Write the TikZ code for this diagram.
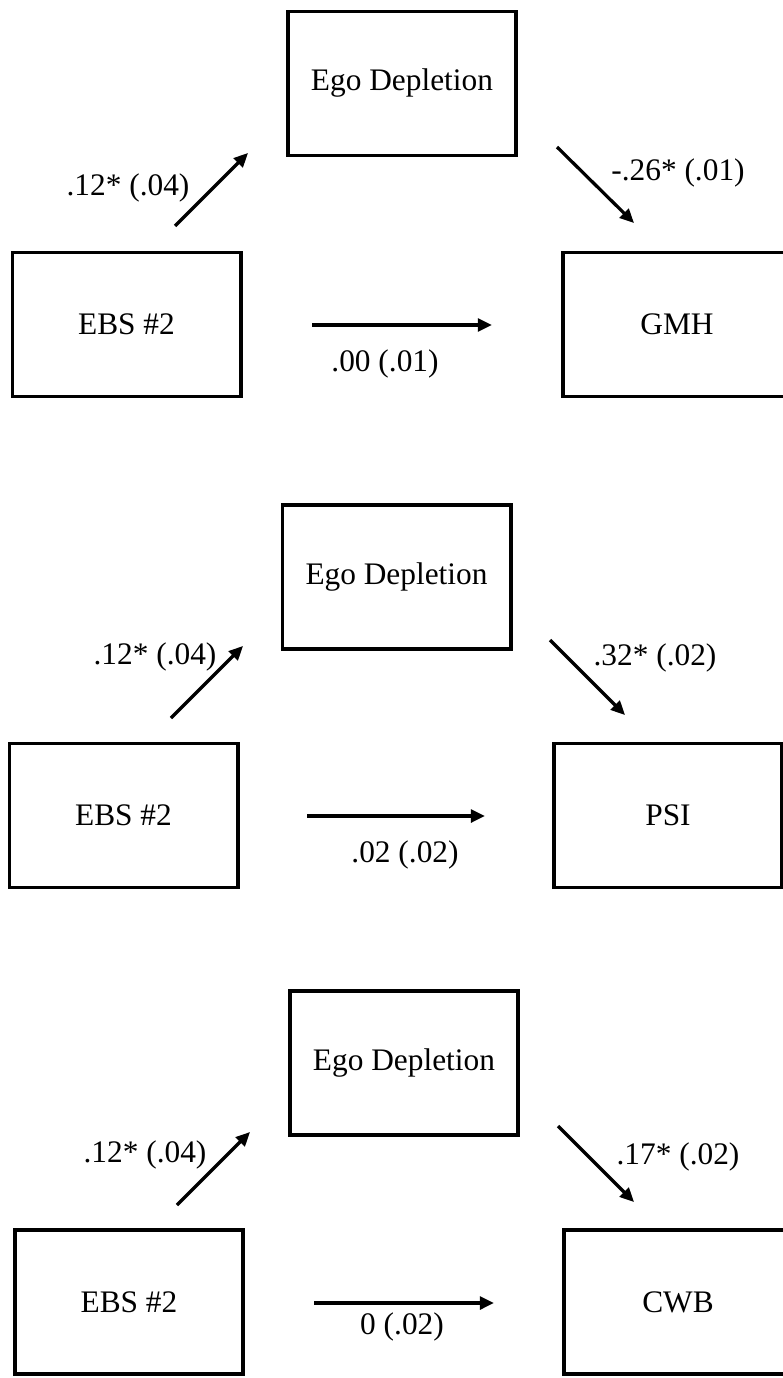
\documentclass[tikz,border=0pt]{standalone}
\usepackage{fontspec}
\setmainfont{Liberation Serif}
\usetikzlibrary{arrows.meta}
\tikzset{
  varbox/.style={draw, line width=2.8pt, minimum width=5.7cm, minimum height=3.6cm, inner sep=0pt},
  effect/.style={line width=2.3pt, -{Triangle[length=10pt,width=9pt]}},
  direct/.style={effect, line width=3pt},
  coef/.style={inner sep=0pt}
}
\begin{document}
\begin{tikzpicture}[x=0.025cm, y=-0.025cm, font=\fontsize{22.3}{26}\selectfont]
\useasboundingbox (0,0) rectangle (782,1378);
\begin{scope}
\node[varbox] (ego1) at (402,83.5) {Ego Depletion};
\node[varbox] (ebs1) at (126.5,324.5) {EBS \#2};
\node[varbox] (gmh) at (677,324.5) {GMH};
\coordinate (a1s) at (175,226); \coordinate (a1e) at (248,153);
\coordinate (b1s) at (557,147); \coordinate (b1e) at (634,223);
\coordinate (c1s) at (312,325); \coordinate (c1e) at (492,325);
\draw[effect] (a1s)--(a1e);
\draw[effect] (b1s)--(b1e);
\draw[direct] (c1s)--(c1e);
\node[coef] (la1) at (128,188) {.12* (.04)};
\node[coef] (lb1) at (678,173) {-.26* (.01)};
\node[coef] (lc1) at (385,364) {.00 (.01)};
\end{scope}
\begin{scope}
\node[varbox] (ego2) at (396.5,577) {Ego Depletion};
\node[varbox] (ebs2) at (123.5,815.5) {EBS \#2};
\node[varbox] (psi) at (668,815.5) {PSI};
\coordinate (a2s) at (171,718); \coordinate (a2e) at (243,646);
\coordinate (b2s) at (550,640); \coordinate (b2e) at (625,715);
\coordinate (c2s) at (307,816); \coordinate (c2e) at (485,816);
\draw[effect] (a2s)--(a2e);
\draw[effect] (b2s)--(b2e);
\draw[direct] (c2s)--(c2e);
\node[coef] (la2) at (155,657) {.12* (.04)};
\node[coef] (lb2) at (655,658) {.32* (.02)};
\node[coef] (lc2) at (405,855) {.02 (.02)};
\end{scope}
\begin{scope}
\node[varbox] (ego3) at (404,1063) {Ego Depletion};
\node[varbox] (ebs3) at (129,1302) {EBS \#2};
\node[varbox] (cwb) at (678,1302) {CWB};
\coordinate (a3s) at (177,1205); \coordinate (a3e) at (250,1132);
\coordinate (b3s) at (558,1126); \coordinate (b3e) at (634,1202);
\coordinate (c3s) at (314,1303); \coordinate (c3e) at (494,1303);
\draw[effect] (a3s)--(a3e);
\draw[effect] (b3s)--(b3e);
\draw[direct] (c3s)--(c3e);
\node[coef] (la3) at (145,1155) {.12* (.04)};
\node[coef] (lb3) at (678,1157) {.17* (.02)};
\node[coef] (lc3) at (402,1327) {0 (.02)};
\end{scope}
\end{tikzpicture}
\end{document}
